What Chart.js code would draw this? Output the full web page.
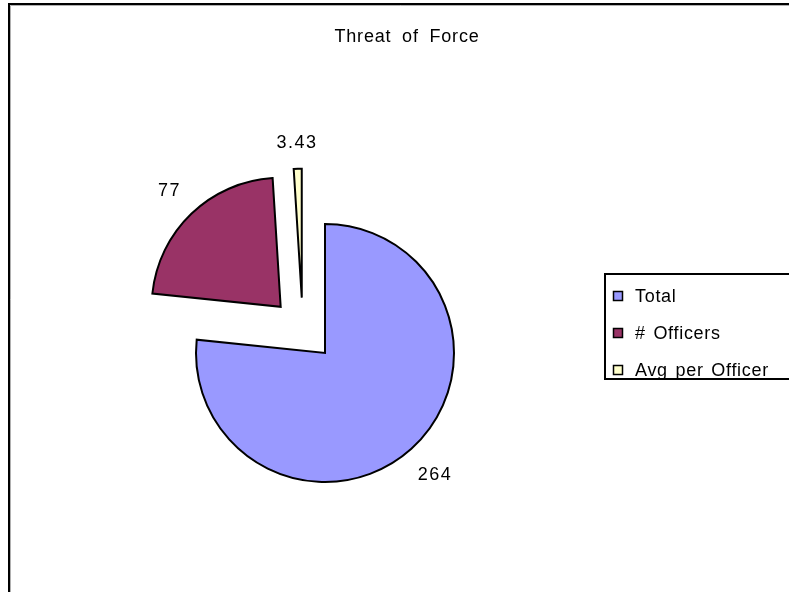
<!DOCTYPE html>
<html>
<head>
<meta charset="utf-8">
<script src="https://cdn.jsdelivr.net/npm/chart.js@4/dist/chart.umd.min.js"></script>
<style>
  html, body { margin: 0; padding: 0; background: #fff; }
  #wrap { position: relative; width: 789px; height: 592px; overflow: hidden; }
  canvas { display: block; }
</style>
</head>
<body>
<div id="wrap"><canvas id="c" width="789" height="592"></canvas></div>
<script>
const chartTitle = "Threat of Force";
const categories = ["Total", "# Officers", "Avg per Officer"];
const values = [264, 77, 3.43];
const valueLabels = ["264", "77", "3.43"];
const colors = ["#9999FF", "#993366", "#FFFFCC"];
// explosion style: distance (px) and small tilt (deg) of the explode direction
const explodeDist = [0, 64, 60];
const explodeTilt = [0, 0, -21];

const FONT = '"Liberation Sans", Arial, sans-serif';

// Explode slices by moving each arc element's centre outward after layout
const explodePlugin = {
  id: 'explode',
  afterDatasetsUpdate(chart) {
    const meta = chart.getDatasetMeta(0);
    meta.data.forEach((arc, i) => {
      const d = explodeDist[i] || 0;
      const mid = (arc.startAngle + arc.endAngle) / 2 + (explodeTilt[i] || 0) * Math.PI / 180;
      arc.x += Math.cos(mid) * d;
      arc.y += Math.sin(mid) * d;
    });
  }
};

const framePlugin = {
  id: 'frame',
  beforeDraw(chart) {
    const ctx = chart.ctx;
    ctx.save();
    ctx.fillStyle = '#fff';
    ctx.fillRect(0, 0, chart.width, chart.height);
    ctx.strokeStyle = '#000';
    ctx.lineWidth = 2;
    ctx.strokeRect(9, 4, chart.width + 20, chart.height + 20);
    ctx.strokeStyle = '#b0b0b0';
    ctx.lineWidth = 1;
    ctx.beginPath();
    ctx.moveTo(10.5, chart.height + 5); ctx.lineTo(10.5, 5.5); ctx.lineTo(chart.width + 5, 5.5);
    ctx.stroke();
    ctx.restore();
  },
  afterDraw(chart) {
    const ctx = chart.ctx;
    ctx.save();
    // title
    ctx.fillStyle = '#000';
    ctx.font = '18px ' + FONT;
    ctx.textAlign = 'center';
    ctx.textBaseline = 'middle';
    try { ctx.letterSpacing = '0.8px'; ctx.wordSpacing = '5px'; } catch (e) {}
    ctx.fillText(chartTitle, 407, 37);

    // data labels
    try { ctx.letterSpacing = '1.5px'; ctx.wordSpacing = '0px'; } catch (e) {}
    const meta = chart.getDatasetMeta(0);
    meta.data.forEach((arc, i) => {
      const p = arc.getProps(['x', 'y', 'startAngle', 'endAngle', 'outerRadius']);
      const mid = (p.startAngle + p.endAngle) / 2;
      const dx = Math.cos(mid), dy = Math.sin(mid);
      const txt = chart.data.datasets[0].valueLabels[i];
      const w = ctx.measureText(txt).width;
      const h = 13;
      const pad = 19 + Math.abs(dx) * w / 2 + Math.abs(dy) * h / 2;
      const r = p.outerRadius + pad;
      ctx.fillText(txt, p.x + dx * r, p.y + dy * r);
    });

    // legend
    const lx = 605, ly = 274, lh = 105;
    ctx.strokeStyle = '#000';
    ctx.lineWidth = 2;
    ctx.strokeRect(lx, ly, chart.width - lx + 20, lh);
    ctx.font = '18px ' + FONT;
    ctx.textAlign = 'left';
    try { ctx.letterSpacing = '0.7px'; ctx.wordSpacing = '2px'; } catch (e) {}
    chart.data.labels.forEach((lab, i) => {
      const cy = 296 + i * 37;
      ctx.fillStyle = chart.data.datasets[0].backgroundColor[i];
      ctx.fillRect(613.5, cy - 4.5, 9, 9);
      ctx.strokeStyle = '#000';
      ctx.lineWidth = 1.5;
      ctx.strokeRect(613.5, cy - 4.5, 9, 9);
      ctx.fillStyle = '#000';
      ctx.fillText(lab, 635, cy + 1);
    });
    ctx.restore();
  }
};

new Chart(document.getElementById('c'), {
  type: 'pie',
  data: {
    labels: categories,
    datasets: [{
      data: values,
      valueLabels: valueLabels,
      backgroundColor: colors,
      borderColor: '#000',
      borderWidth: 2,
      borderJoinStyle: 'miter',
      hoverOffset: 0,
      radius: 129,
      clip: false
    }]
  },
  options: {
    responsive: false,
    animation: false,
    events: [],
    layout: { padding: { left: 0, right: 139, top: 114, bottom: 0 } },
    plugins: {
      legend: { display: false },
      title: { display: false },
      tooltip: { enabled: false }
    }
  },
  plugins: [explodePlugin, framePlugin]
});
</script>
</body>
</html>
